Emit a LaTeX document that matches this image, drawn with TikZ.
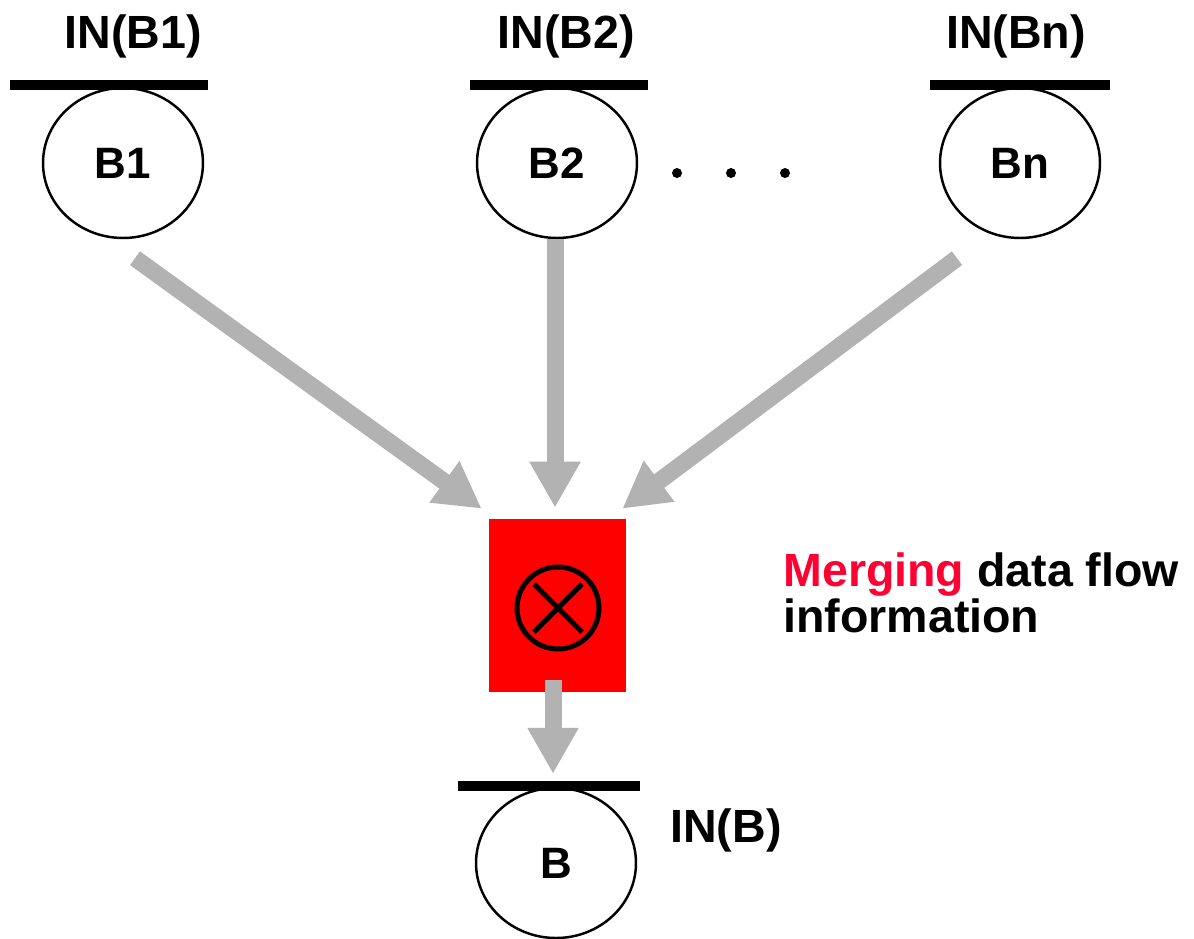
\documentclass[tikz,border=0pt]{standalone}
\usepackage{fontspec}
\setmainfont{Liberation Sans}
\usetikzlibrary{arrows.meta, positioning, shapes.geometric, calc}
\definecolor{mergered}{RGB}{255,0,51}
\definecolor{flowgray}{RGB}{178,178,178}

\begin{document}
\begin{tikzpicture}[
x=0.02cm, y=-0.02cm,
blk/.style={draw, ellipse, line width=1.4pt, minimum width=3.2cm, minimum height=3cm, inner sep=0pt, font=\fontsize{25}{28}\selectfont\bfseries},
inlabel/.style={anchor=base, inner sep=0pt, font=\fontsize{26.5}{30}\selectfont\bfseries},
bar/.style={line width=0.2cm},
mrgbox/.style={fill=red, minimum width=2.74cm, minimum height=3.46cm, inner sep=0pt},
optimes/.style={draw, circle, line width=0.1cm, minimum size=1.64cm, inner sep=0pt},
flow/.style={draw=flowgray, line width=0.34cm, -{Triangle[length=0.92cm, width=0.96cm]}}
]
\useasboundingbox (0,0) rectangle (1194,938);

% Predecessor blocks
\node[blk] (b1) at (123,163) {B1};
\node[blk] (b2) at (557,163) {B2};
\node[blk] (bn) at (1020,163) {Bn};

% IN sets of the predecessors
\draw[bar] ($(b1.north)+(-113,-2)$) -- ($(b1.north)+(85,-2)$);
\draw[bar] ($(b2.north)+(-87,-2)$) -- ($(b2.north)+(91,-2)$);
\draw[bar] ($(bn.north)+(-90,-2)$) -- ($(bn.north)+(90,-2)$);
\node[inlabel] (in1) at (133,48) {IN(B1)};
\node[inlabel] (in2) at (566,48) {IN(B2)};
\node[inlabel] (inn) at (1016,48) {IN(Bn)};

% dots between B2 and Bn
\foreach \x in {677,731,785}
  \fill (\x,173) circle[radius=0.1cm];

% Merge operator
\node[mrgbox] (mrg) at (557.5,605.5) {};
\node[optimes] (op) at (558,608) {};
\draw[line width=0.1cm] ($(op)+(-24,-24)$) -- ($(op)+(24,24)$);
\draw[line width=0.1cm] ($(op)+(-24,24)$) -- ($(op)+(24,-24)$);

\node[inlabel, anchor=base west] (mtxt1) at (783,586) {\textcolor{mergered}{Merging} data flow};
\node[inlabel, anchor=base west] (mtxt2) at (783,632) {information};

% Block B
\node[blk] (b) at (556,863) {B};
\draw[bar] ($(b.north)+(-98,-1)$) -- ($(b.north)+(84,-1)$);
\node[inlabel] (inb) at (726,842) {IN(B)};

% Flows
\draw[flow] ($(b1.south)+(12,19)$) -- ($(mrg.north west)+(-7,-10)$);
\draw[flow] ($(b2.south)+(-2,0)$) -- ($(mrg.north)+(-2.5,-11)$);
\draw[flow] ($(bn.south)+(-63,19)$) -- ($(mrg.north east)+(-4,-10)$);
\draw[flow] ($(mrg.south)+(-4.5,-12)$) -- ($(b.north)+(-3,-13)$);

\end{tikzpicture}
\end{document}
